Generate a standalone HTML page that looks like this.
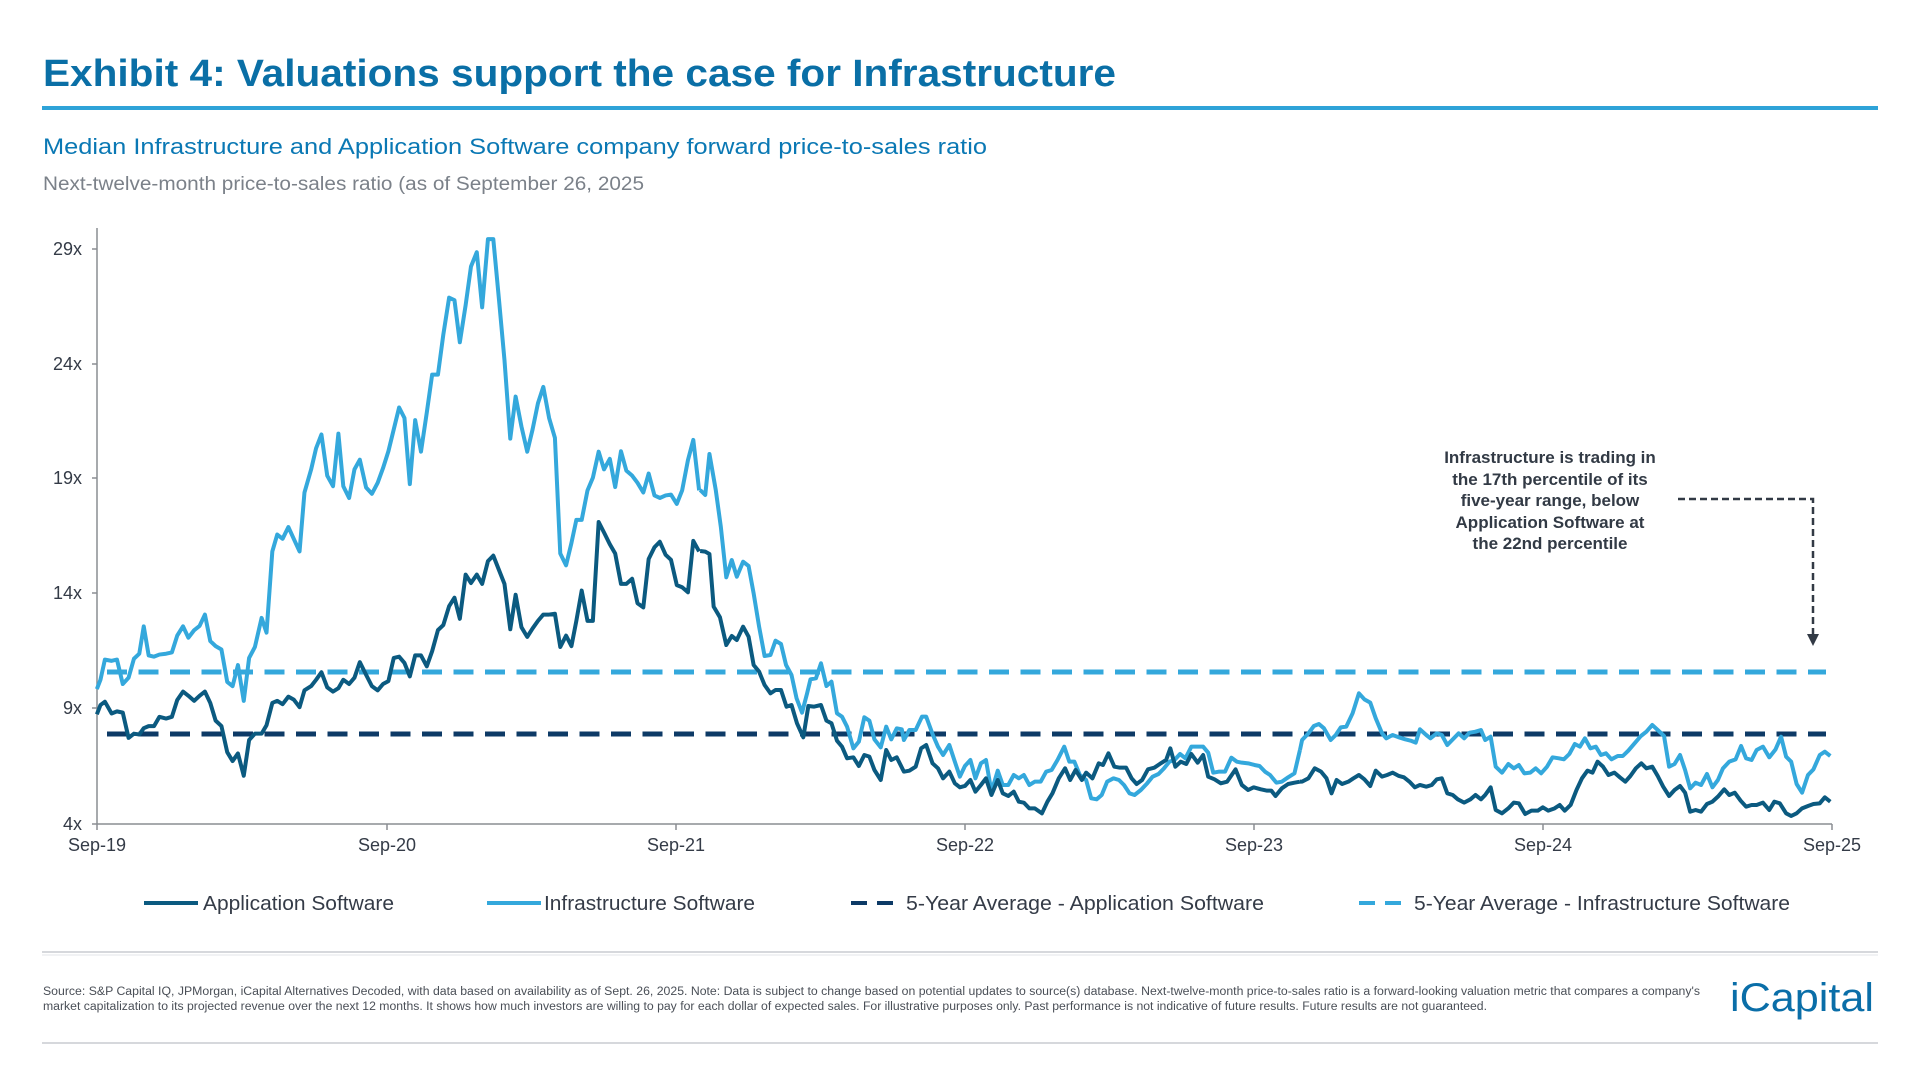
<!DOCTYPE html>
<html><head><meta charset="utf-8"><style>
html,body{margin:0;padding:0;background:#fff;width:1920px;height:1080px;overflow:hidden}
svg{display:block}
text{font-family:"Liberation Sans",sans-serif}
</style></head><body>
<svg width="1920" height="1080" viewBox="0 0 1920 1080" xmlns="http://www.w3.org/2000/svg">
<text x="43" y="86" font-size="38" font-weight="bold" fill="#0a6fa6" textLength="1073" lengthAdjust="spacingAndGlyphs">Exhibit 4: Valuations support the case for Infrastructure</text>
<rect x="42" y="106" width="1836" height="4" fill="#2ea3d8"/>
<text x="43" y="154" font-size="22" fill="#0a78b4" textLength="944" lengthAdjust="spacingAndGlyphs">Median Infrastructure and Application Software company forward price-to-sales ratio</text>
<text x="43" y="190" font-size="19" fill="#7b8189" textLength="601" lengthAdjust="spacingAndGlyphs">Next-twelve-month price-to-sales ratio (as of September 26, 2025</text>

<g stroke="#8a8d92" stroke-width="1.5" fill="none">
<line x1="97" y1="228" x2="97" y2="824"/>
<line x1="97" y1="824" x2="1832" y2="824"/>
<line x1="92" y1="249" x2="97" y2="249"/><line x1="92" y1="364" x2="97" y2="364"/><line x1="92" y1="478" x2="97" y2="478"/><line x1="92" y1="593" x2="97" y2="593"/><line x1="92" y1="708" x2="97" y2="708"/><line x1="92" y1="824" x2="97" y2="824"/>
<line x1="97" y1="824" x2="97" y2="830"/><line x1="387" y1="824" x2="387" y2="830"/><line x1="676" y1="824" x2="676" y2="830"/><line x1="965" y1="824" x2="965" y2="830"/><line x1="1254" y1="824" x2="1254" y2="830"/><line x1="1543" y1="824" x2="1543" y2="830"/><line x1="1832" y1="824" x2="1832" y2="830"/>
</g>
<g font-size="18" fill="#343b47" text-anchor="end">
<text x="82" y="255">29x</text><text x="82" y="370">24x</text><text x="82" y="484">19x</text><text x="82" y="599">14x</text><text x="82" y="714">9x</text><text x="82" y="830">4x</text>
</g>
<g font-size="18" fill="#343b47" text-anchor="middle">
<text x="97" y="851">Sep-19</text><text x="387" y="851">Sep-20</text><text x="676" y="851">Sep-21</text><text x="965" y="851">Sep-22</text><text x="1254" y="851">Sep-23</text><text x="1543" y="851">Sep-24</text><text x="1832" y="851">Sep-25</text>
</g>

<line x1="107" y1="672" x2="1826" y2="672" stroke="#34a8dc" stroke-width="5" stroke-dasharray="20 11.5"/>
<line x1="107" y1="734" x2="1826" y2="734" stroke="#0d3a66" stroke-width="5" stroke-dasharray="20 11.5"/>

<g fill="none" stroke-width="4" stroke-linejoin="round">
<g transform="translate(0,200) scale(0.44643,0.42088)">
<polyline vector-effect="non-scaling-stroke" stroke="#34a8dc" points="217,1162 225,1140 235,1092 250,1095 262,1092 275,1150 288,1135 300,1090 312,1078 322,1013 333,1082 345,1085 357,1080 372,1078 385,1075 397,1035 410,1013 422,1040 435,1022 447,1012 459,985 471,1048 483,1060 496,1068 509,1145 521,1155 533,1105 546,1190 558,1088 571,1062 586,993 597,1028 610,835 621,795 633,805 646,777 658,805 671,835 682,695 697,640 708,590 720,557 733,655 746,680 758,555 769,680 782,708 794,640 806,617 820,683 833,698 846,672 858,637 870,597 882,545 894,493 906,518 918,675 930,523 943,598 956,505 968,415 981,415 993,320 1006,232 1018,238 1030,338 1043,250 1055,158 1068,124 1080,255 1093,93 1105,93 1118,240 1130,380 1143,567 1155,467 1168,538 1181,598 1193,545 1205,483 1217,444 1230,518 1243,565 1255,840 1268,868 1280,815 1291,760 1303,760 1316,690 1328,660 1341,598 1353,640 1366,615 1378,682 1391,597 1403,643 1416,655 1428,672 1441,695 1453,650 1466,702 1478,708 1491,702 1503,700 1516,722 1528,690 1541,618 1553,570 1566,690"/>
<polyline vector-effect="non-scaling-stroke" stroke="#0b5a80" points="217,1222 225,1200 235,1192 250,1220 262,1215 275,1218 288,1278 300,1268 312,1270 322,1255 333,1250 345,1250 357,1228 372,1232 385,1228 397,1188 410,1168 422,1178 435,1190 447,1178 459,1168 471,1195 483,1237 496,1250 509,1312 521,1333 533,1315 546,1368 558,1283 571,1268 586,1268 597,1248 610,1195 621,1190 633,1198 646,1180 658,1187 671,1205 682,1165 697,1155 708,1140 720,1122 733,1158 746,1168 758,1160 769,1140 782,1150 794,1135 806,1098 820,1128 833,1155 846,1165 858,1150 870,1143 882,1088 894,1085 906,1100 918,1132 930,1082 943,1082 956,1108 968,1072 981,1022 993,1010 1006,965 1018,945 1030,995 1043,890 1055,910 1068,890 1080,912 1093,858 1105,845 1118,880 1130,912 1143,1020 1155,938 1168,1015 1181,1038 1193,1018 1205,1000 1217,985 1230,985 1243,983 1255,1062 1268,1035 1280,1060 1291,1000 1303,928 1316,1000 1328,1000 1341,765 1353,790 1366,818 1378,840 1391,912 1403,912 1416,900 1428,958 1441,968 1453,853 1466,825 1478,812 1491,843 1503,855 1516,915 1528,920 1541,932 1553,810 1566,835"/>
</g>
<g transform="translate(640,380) scale(0.42088,0.33333)">
<polyline vector-effect="non-scaling-stroke" stroke="#34a8dc" points="143,330 155,345 165,222 180,330 192,440 205,592 218,540 230,590 245,545 258,558 270,640 283,740 296,828 310,825 322,782 335,792 347,855 360,885 372,955 385,998 397,940 405,898 418,895 430,850 443,918 455,905 468,1000 480,1010 492,1040 507,1105 520,1085 533,1012 545,1022 557,1078 572,1102 585,1040 597,1078 610,1045 622,1048 627,1080 640,1050 655,1050 670,1010 680,1010 695,1062 708,1100 720,1125 735,1095 748,1145 760,1190 772,1158 785,1140 797,1195 810,1150 822,1140 835,1235 850,1172 862,1215 875,1215 888,1185 900,1195 912,1185 925,1215 938,1205 952,1205 965,1175 978,1170 992,1140 1008,1100 1020,1145 1032,1145 1045,1185 1060,1200 1072,1255 1085,1258 1097,1245 1110,1205 1125,1195 1138,1200 1150,1215 1163,1240 1175,1245 1190,1230 1205,1210 1218,1190 1232,1182 1245,1165 1258,1145 1270,1140 1283,1122 1296,1135 1310,1100 1325,1100 1338,1100 1350,1118 1362,1178 1375,1175 1390,1175 1405,1133 1418,1145 1430,1148 1445,1150 1460,1155 1472,1158 1485,1175 1497,1185 1512,1208 1525,1205 1540,1192 1555,1180 1568,1110"/>
<polyline vector-effect="non-scaling-stroke" stroke="#0b5a80" points="143,513 155,515 165,522 175,680 190,712 205,795 218,768 230,780 245,740 258,770 270,855 283,875 296,915 310,940 322,930 335,930 348,980 360,975 373,1030 388,1072 400,978 413,980 430,975 443,1022 455,1030 468,1082 480,1100 492,1135 507,1132 520,1158 533,1125 545,1130 557,1170 572,1200 585,1110 597,1140 610,1132 627,1175 640,1172 655,1160 668,1105 680,1095 695,1150 708,1165 720,1195 735,1175 748,1210 760,1222 772,1218 785,1200 797,1235 810,1215 822,1195 835,1245 850,1200 862,1240 875,1248 888,1235 900,1265 912,1268 925,1285 938,1285 955,1300 968,1265 980,1240 995,1195 1010,1165 1022,1200 1035,1170 1050,1200 1060,1178 1075,1195 1090,1150 1100,1155 1113,1120 1127,1160 1140,1163 1155,1163 1168,1195 1180,1212 1193,1200 1207,1168 1222,1163 1235,1152 1250,1140 1260,1105 1272,1160 1285,1145 1298,1152 1310,1122 1325,1148 1338,1125 1350,1190 1365,1198 1380,1210 1395,1205 1415,1168 1430,1215 1445,1230 1458,1222 1475,1228 1490,1232 1500,1232 1510,1248 1525,1225 1540,1212 1555,1208 1568,1205"/>
</g>
<g transform="translate(1260,380) scale(0.42088,0.33333)">
<polyline vector-effect="non-scaling-stroke" stroke="#34a8dc" points="95,1110 100,1080 115,1060 128,1038 140,1032 152,1045 168,1080 180,1065 192,1042 205,1040 220,1000 235,940 248,958 262,968 275,1015 290,1060 300,1075 315,1065 330,1072 345,1078 358,1082 370,1088 380,1048 395,1065 405,1075 420,1060 432,1065 445,1095 458,1078 472,1060 485,1075 498,1058 512,1055 525,1050 535,1080 548,1070 560,1160 575,1178 590,1152 603,1165 615,1155 628,1180 642,1178 655,1165 668,1180 682,1160 695,1132 710,1135 722,1138 735,1122 748,1092 760,1100 772,1075 785,1105 798,1100 810,1125 822,1120 835,1138 850,1128 862,1128 875,1112 890,1090 905,1068 918,1055 932,1035 945,1050 960,1068 972,1160 985,1152 998,1125 1010,1170 1022,1225 1035,1208 1048,1215 1062,1182 1075,1222 1088,1200 1100,1165 1115,1145 1130,1138 1143,1098 1155,1135 1168,1140 1180,1110 1195,1100 1210,1132 1225,1108 1238,1070 1250,1130 1262,1145 1275,1212 1288,1238 1302,1185 1315,1168 1330,1125 1342,1115 1355,1128"/>
<polyline vector-effect="non-scaling-stroke" stroke="#0b5a80" points="95,1205 100,1205 115,1195 130,1165 145,1175 158,1195 170,1240 182,1200 195,1212 210,1205 222,1195 235,1185 248,1198 262,1218 275,1172 290,1190 302,1185 315,1178 330,1188 342,1192 355,1205 368,1222 380,1215 395,1220 408,1215 420,1198 432,1195 445,1240 458,1245 470,1258 485,1268 500,1258 512,1245 525,1258 535,1245 548,1222 560,1290 575,1300 590,1285 603,1268 615,1270 630,1302 645,1292 660,1292 672,1282 685,1292 700,1285 712,1275 724,1292 738,1275 752,1230 765,1195 778,1172 790,1178 802,1145 815,1160 828,1185 842,1178 855,1192 868,1205 880,1188 893,1165 906,1150 918,1165 932,1160 945,1188 958,1220 972,1248 985,1230 998,1218 1010,1238 1022,1295 1035,1290 1048,1295 1062,1272 1075,1265 1088,1250 1103,1228 1115,1245 1128,1238 1142,1262 1155,1280 1168,1275 1180,1275 1195,1268 1210,1290 1222,1265 1235,1270 1250,1300 1262,1308 1275,1300 1288,1285 1302,1278 1315,1272 1330,1270 1342,1252 1355,1265"/>
</g>
</g>

<g font-size="17" font-weight="bold" fill="#323a45" text-anchor="middle">
<text x="1550" y="463">Infrastructure is trading in</text>
<text x="1550" y="485">the 17th percentile of its</text>
<text x="1550" y="506">five-year range, below</text>
<text x="1550" y="528">Application Software at</text>
<text x="1550" y="549">the 22nd percentile</text>
</g>
<path d="M1678,499 H1813 V636" fill="none" stroke="#323a45" stroke-width="2.5" stroke-dasharray="7 4"/>
<polygon points="1807,634 1819,634 1813,646" fill="#323a45"/>

<g stroke-width="4">
<line x1="144" y1="903" x2="198" y2="903" stroke="#0b5a80"/>
<line x1="487" y1="903" x2="541" y2="903" stroke="#34a8dc"/>
<line x1="851" y1="903" x2="900" y2="903" stroke="#0d3a66" stroke-dasharray="16 10"/>
<line x1="1359" y1="903" x2="1408" y2="903" stroke="#34a8dc" stroke-dasharray="16 10"/>
</g>
<g font-size="20" fill="#343b47">
<text x="203" y="910" textLength="191" lengthAdjust="spacingAndGlyphs">Application Software</text>
<text x="544" y="910" textLength="211" lengthAdjust="spacingAndGlyphs">Infrastructure Software</text>
<text x="906" y="910" textLength="358" lengthAdjust="spacingAndGlyphs">5-Year Average - Application Software</text>
<text x="1414" y="910" textLength="376" lengthAdjust="spacingAndGlyphs">5-Year Average - Infrastructure Software</text>
</g>

<line x1="42" y1="952" x2="1878" y2="952" stroke="#c9ccd1" stroke-width="1.5"/>
<line x1="42" y1="955" x2="1878" y2="955" stroke="#e3e5e8" stroke-width="1"/>
<g font-size="11.5" fill="#4a4f57">
<text x="43" y="995" textLength="1657" lengthAdjust="spacingAndGlyphs">Source: S&amp;P Capital IQ, JPMorgan, iCapital Alternatives Decoded, with data based on availability as of Sept. 26, 2025. Note: Data is subject to change based on potential updates to source(s) database. Next-twelve-month price-to-sales ratio is a forward-looking valuation metric that compares a company's</text>
<text x="43" y="1010" textLength="1444" lengthAdjust="spacingAndGlyphs">market capitalization to its projected revenue over the next 12 months. It shows how much investors are willing to pay for each dollar of expected sales. For illustrative purposes only. Past performance is not indicative of future results. Future results are not guaranteed.</text>
</g>
<text x="1730" y="1011" font-size="40" fill="#0a6ea8" textLength="144" lengthAdjust="spacingAndGlyphs">iCapital</text>
<line x1="42" y1="1043" x2="1878" y2="1043" stroke="#c9ccd1" stroke-width="1.5"/>
</svg>
</body></html>
